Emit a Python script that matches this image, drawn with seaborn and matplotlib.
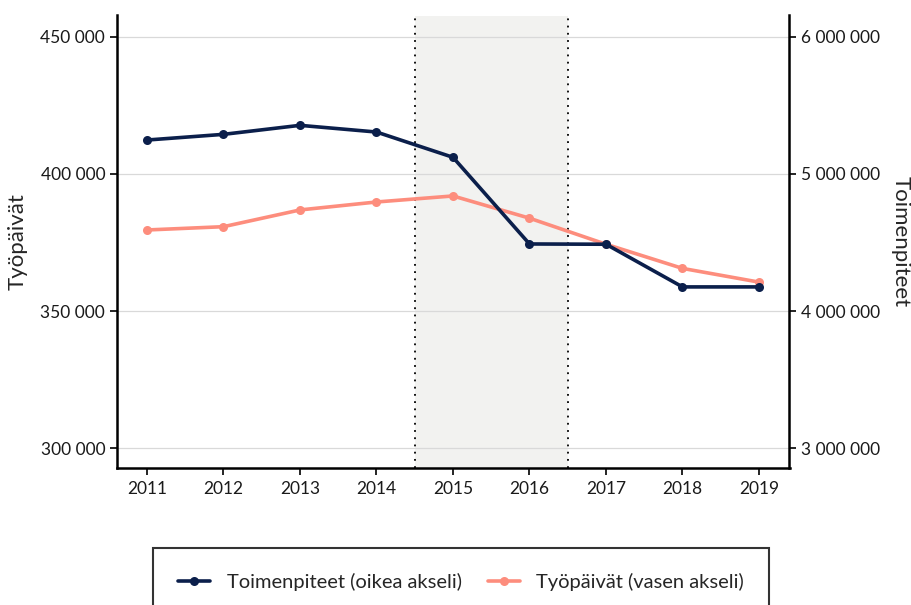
import matplotlib
matplotlib.use("Agg")
import matplotlib.pyplot as plt
import matplotlib.ticker as mticker
import seaborn as sns
import pandas as pd

years = [2011, 2012, 2013, 2014, 2015, 2016, 2017, 2018, 2019]
toimenpiteet = [5247600, 5289000, 5354700, 5305900, 5121600, 4490000, 4488000, 4177000, 4177000]
tyopaivat = [379600, 380800, 386900, 389800, 392000, 383900, 374400, 365600, 360600]
left_ticks = [300000, 350000, 400000, 450000]
right_ticks = [3000000, 4000000, 5000000, 6000000]

NAVY = "#0b1f4b"
SALMON = "#fd8d7d"

sns.set_theme(style="white")
plt.rcParams['font.family'] = ['Lato', 'DejaVu Sans']

df = pd.DataFrame({"year": years, "toim": toimenpiteet, "tyo": tyopaivat})

fig = plt.figure(figsize=(9.12, 6.05), dpi=100)
ax = fig.add_axes([117/912, 1-468/605, (789.5-117)/912, (468-15.5)/605])
ax2 = ax.twinx()

ax.axvspan(2014.5, 2016.5, color="#f2f2f0", zorder=0, lw=0)
ax.axvline(2014.5, color="black", ls=(0, (1, 3)), lw=1.3, zorder=1)
ax.axvline(2016.5, color="black", ls=(0, (1, 3)), lw=1.3, zorder=1)

sns.lineplot(data=df, x="year", y="tyo", ax=ax, color=SALMON, marker="o",
             markersize=6.5, markeredgewidth=0, lw=2.6, label="Työpäivät (vasen akseli)",
             legend=False, zorder=3)
sns.lineplot(data=df, x="year", y="toim", ax=ax2, color=NAVY, marker="o",
             markersize=6.5, markeredgewidth=0, lw=2.6, label="Toimenpiteet (oikea akseli)",
             legend=False, zorder=4)

ax.set_xlim(2010.608, 2019.399)
ax.set_ylim(292857, 457762)
ax2.set_ylim(2857140, 6155240)
ax.set_yticks(left_ticks)
ax2.set_yticks(right_ticks)
ax.set_xticks(years)

fmt = mticker.FuncFormatter(lambda v, p: f"{int(v):,}".replace(",", " "))
ax.yaxis.set_major_formatter(fmt)
ax2.yaxis.set_major_formatter(fmt)

ax.grid(axis="y", color="#d9d9d9", lw=0.9)
ax.set_axisbelow(True)

for a in (ax, ax2):
    for s in a.spines.values():
        s.set_visible(False)
ax.spines["left"].set_visible(True)
ax.spines["bottom"].set_visible(True)
ax2.spines["right"].set_visible(True)
for s in (ax.spines["left"], ax.spines["bottom"], ax2.spines["right"]):
    s.set_color("black")
    s.set_linewidth(1.8)

ax.tick_params(axis="both", which="major", length=5, width=1.2, color="black",
               labelsize=12.5, labelcolor="#1a1a1a", direction="out", left=True, bottom=True)
ax2.tick_params(axis="y", length=5, width=1.2, color="black", labelsize=12.5,
                labelcolor="#1a1a1a", direction="out", right=True)
ax.tick_params(axis="x", pad=4)

ax.set_xlabel("")
ax.set_ylabel("Työpäivät", fontsize=16, labelpad=9)
ax2.set_ylabel("Toimenpiteet", fontsize=16, rotation=270, labelpad=22)

h1, l1 = ax2.get_legend_handles_labels()
h2, l2 = ax.get_legend_handles_labels()
leg = fig.legend(h1 + h2, l1 + l2, loc="upper center", ncol=2,
                 bbox_to_anchor=(461/912, 1-548/605), fontsize=14.5,
                 frameon=True, fancybox=False, handlelength=1.6,
                 borderpad=1.25, columnspacing=1.3, handletextpad=0.8,
                 borderaxespad=0)
leg.get_frame().set_edgecolor("black")
leg.get_frame().set_linewidth(1.5)

fig.savefig("out.png", dpi=100)
